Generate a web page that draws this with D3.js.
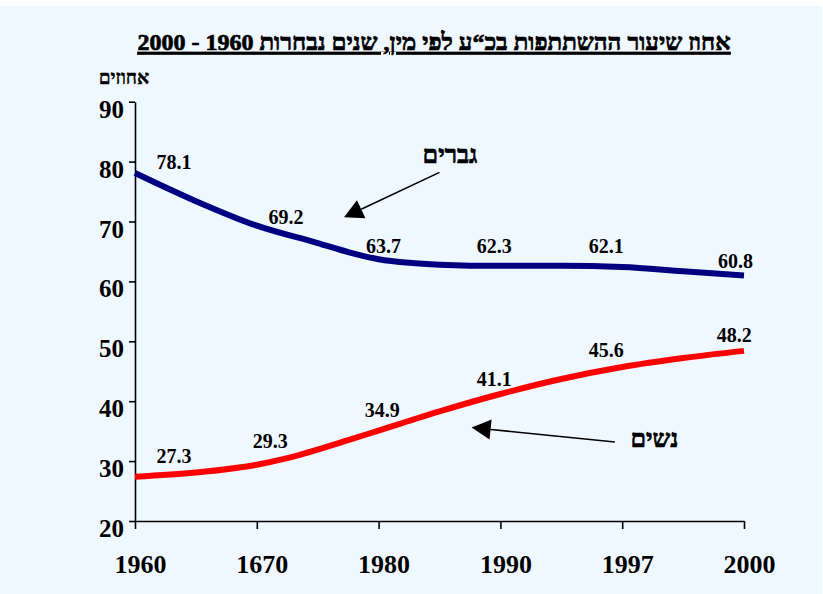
<!DOCTYPE html>
<html><head><meta charset="utf-8">
<script src="https://cdn.jsdelivr.net/npm/d3@7"></script>
<style>
html,body{margin:0;padding:0;background:#fff;}
svg{display:block;}
text{font-family:"Liberation Serif","Times New Roman",serif;font-weight:bold;fill:#000;}
.heb{stroke:#000;stroke-width:0.7px;}
</style></head>
<body>
<svg id="chart" width="823" height="594"></svg>
<script>
// ---- data ----
const categories = ["1960","1670","1980","1990","1997","2000"];
const yTicks = [20,30,40,50,60,70,80,90];
// line points: position along category axis (index) and value
const menPos   = [0, 0.5, 1, 1.5, 1.75, 2, 2.25, 2.5, 3, 3.5, 4, 4.5, 5];
const menVal   = [78.1, 73.4, 69.3, 66.4, 64.9, 63.7, 63.1, 62.8, 62.6, 62.6, 62.4, 61.7, 61.0];
const womenPos = [0, 0.5, 1, 1.25, 1.75, 2, 2.5, 3, 3.5, 4, 4.5, 5];
const womenVal = [27.4, 28.1, 29.4, 30.5, 33.5, 35.1, 38.3, 41.2, 43.7, 45.7, 47.2, 48.4];
// data labels
const menLabels   = ["78.1","69.2","63.7","62.3","62.1","60.8"];
const womenLabels = ["27.3","29.3","34.9","41.1","45.6","48.2"];
// label anchors in data units (index, value of baseline)
const menLabelPos   = [[0.32,78.7],[1.24,69.6],[2.04,64.7],[2.95,64.7],[3.87,64.7],[4.93,62.2]];
const womenLabelPos = [[0.32,29.7],[1.11,32.2],[2.03,37.3],[2.95,42.5],[3.87,47.3],[4.92,49.8]];
const title = "אחוז שיעור ההשתתפות בכ“ע לפי מין, שנים נבחרות 1960 - 2000";
const yTitle = "אחוזים";
const menName = "גברים", womenName = "נשים";
// annotation arrows in data units: [from, to(tip)]
const menArrow   = [[2.50,78.2],[1.716,70.7]];
const womenArrow = [[3.94,33.2],[2.764,35.6]];
const menNamePos = [2.586,79.8], womenNamePos = [4.265,32.3];

// ---- drawing ----
const svg = d3.select("#chart");
svg.append("rect").attr("x",0).attr("y",6).attr("width",822).attr("height",588).attr("fill","#F0F8FF");

const x = d3.scaleLinear().domain([0,5]).range([135,744]);
const y = d3.scaleLinear().domain([20,90]).range([521,101.7]);

// title
svg.append("text").attr("class","heb").attr("x",434).attr("y",50)
  .attr("direction","rtl").attr("text-anchor","middle")
  .style("font-size","24px").style("text-decoration","underline")
  .text(title);
svg.append("text").attr("class","heb").attr("x",124).attr("y",84)
  .attr("direction","rtl").attr("text-anchor","middle")
  .style("font-size","19px").style("stroke-width","0.4px").text(yTitle);

// axes
const yAxis = d3.axisLeft(y).tickValues(yTicks).tickSize(6).tickSizeOuter(0).tickFormat(d3.format("d"));
const gy = svg.append("g").attr("transform","translate(135,0)").call(yAxis);
gy.selectAll("path,line").attr("stroke","#000").attr("stroke-width",1.6);
gy.selectAll("text").attr("x",-11).attr("dy","0.62em").style("font-size","25px")
  .style("font-family","'Liberation Serif',serif").style("font-weight","bold");

const xAxis = d3.axisBottom(x).tickValues(d3.range(categories.length)).tickSize(8).tickSizeOuter(0)
  .tickFormat(i => categories[i]);
const gx = svg.append("g").attr("transform","translate(0,521)").call(xAxis);
gx.selectAll("path,line").attr("stroke","#000").attr("stroke-width",1.6);
gx.selectAll("text").attr("x",5).attr("y",52).attr("dy",0).style("font-size","26px")
  .style("font-family","'Liberation Serif',serif").style("font-weight","bold");
gy.select(".domain").raise();

// lines
const line = d3.line().x(d=>x(d[0])).y(d=>y(d[1])).curve(d3.curveMonotoneX);
svg.append("path").datum(menPos.map((p,i)=>[p,menVal[i]]))
  .attr("d",line).attr("fill","none").attr("stroke","#000080").attr("stroke-width",6);
svg.append("path").datum(womenPos.map((p,i)=>[p,womenVal[i]]))
  .attr("d",line).attr("fill","none").attr("stroke","#FF0000").attr("stroke-width",6);

// data labels
function labels(txt,pos){
  svg.append("g").selectAll("text").data(txt).join("text")
    .attr("x",(d,i)=>x(pos[i][0])).attr("y",(d,i)=>y(pos[i][1]))
    .attr("text-anchor","middle").style("font-size","20px").text(d=>d);
}
labels(menLabels,menLabelPos);
labels(womenLabels,womenLabelPos);

// annotations
function arrow(a){
  const x1=x(a[0][0]),y1=y(a[0][1]),x2=x(a[1][0]),y2=y(a[1][1]);
  const dx=x2-x1,dy=y2-y1,L=Math.hypot(dx,dy),ux=dx/L,uy=dy/L;
  const hl=19,hw=10;
  const bx=x2-ux*hl,by=y2-uy*hl;
  svg.append("line").attr("x1",x1).attr("y1",y1).attr("x2",bx).attr("y2",by)
    .attr("stroke","#000").attr("stroke-width",1.6);
  svg.append("polygon").attr("points",[[x2,y2],[bx-uy*hw,by+ux*hw],[bx+uy*hw,by-ux*hw]].map(p=>p.join(",")).join(" "))
    .attr("fill","#000");
}
arrow(menArrow); arrow(womenArrow);
svg.append("text").attr("class","heb").attr("x",x(menNamePos[0])).attr("y",y(menNamePos[1]))
  .attr("direction","rtl").attr("text-anchor","middle").style("font-size","25px").text(menName);
svg.append("text").attr("class","heb").attr("x",x(womenNamePos[0])).attr("y",y(womenNamePos[1]))
  .attr("direction","rtl").attr("text-anchor","middle").style("font-size","25px").text(womenName);
</script>
</body></html>
